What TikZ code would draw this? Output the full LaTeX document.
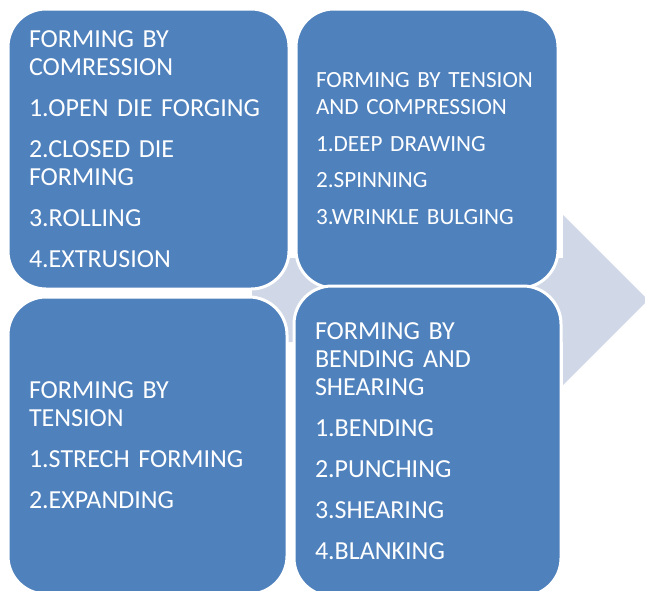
\documentclass[tikz,border=0pt]{standalone}
\usepackage{fontspec}
\setmainfont{Carlito}
\usepackage{tikz}
\definecolor{boxblue}{HTML}{4F81BD}
\definecolor{arrowfill}{HTML}{D0D8E8}

\begin{document}
\begin{tikzpicture}[line cap=round,line join=round,x=1pt,y=-1pt,
	block/.style={draw=white,line width=3pt,fill=boxblue,rounded corners=38pt,
		text=white,align=left,inner xsep=0pt,font=\fontsize{26}{28.3}\selectfont}]
	\useasboundingbox (0,0) rectangle (645,590);
	\clip (0,0) rectangle (645,590);
	%%%%%%%%%%%%%%% A R R O W %%%%%%%%%%%%%%%%
	\fill[arrowfill] (252,258) -- (563,258) -- (563,215) -- (648,300) -- (563,385) -- (563,342) -- (252,342) -- cycle;
	%%%%%%%%%%%%%%% B L O C K S %%%%%%%%%%%%%%%%
	%top left
	\node[block,text width=239pt,minimum width=281pt,minimum height=280pt] (compression) at (148.5,149)
		{FORMING BY\\COMRESSION\\[12.7pt]1.OPEN DIE FORGING\\[12.7pt]2.CLOSED DIE\\FORMING\\[12.7pt]3.ROLLING\\[12.7pt]4.EXTRUSION};
	%top right
	\node[block,text width=222pt,minimum width=262pt,minimum height=279pt,font=\fontsize{23.2}{26.7}\selectfont] (tencomp) at (427,148.5)
		{FORMING BY TENSION\\AND COMPRESSION\\[9.8pt]1.DEEP DRAWING\\[9.8pt]2.SPINNING\\[9.8pt]3.WRINKLE BULGING};
	%bottom left
	\node[block,text width=237pt,minimum width=279pt,minimum height=297pt] (tension) at (147.5,445.5)
		{FORMING BY\\TENSION\\[12.7pt]1.STRECH FORMING\\[12.7pt]2.EXPANDING};
	%bottom right
	\node[block,text width=225pt,minimum width=267pt,minimum height=310pt] (bendshear) at (427.5,441)
		{FORMING BY\\BENDING AND\\SHEARING\\[12.7pt]1.BENDING\\[12.7pt]2.PUNCHING\\[12.7pt]3.SHEARING\\[12.7pt]4.BLANKING};
\end{tikzpicture}
\end{document}
